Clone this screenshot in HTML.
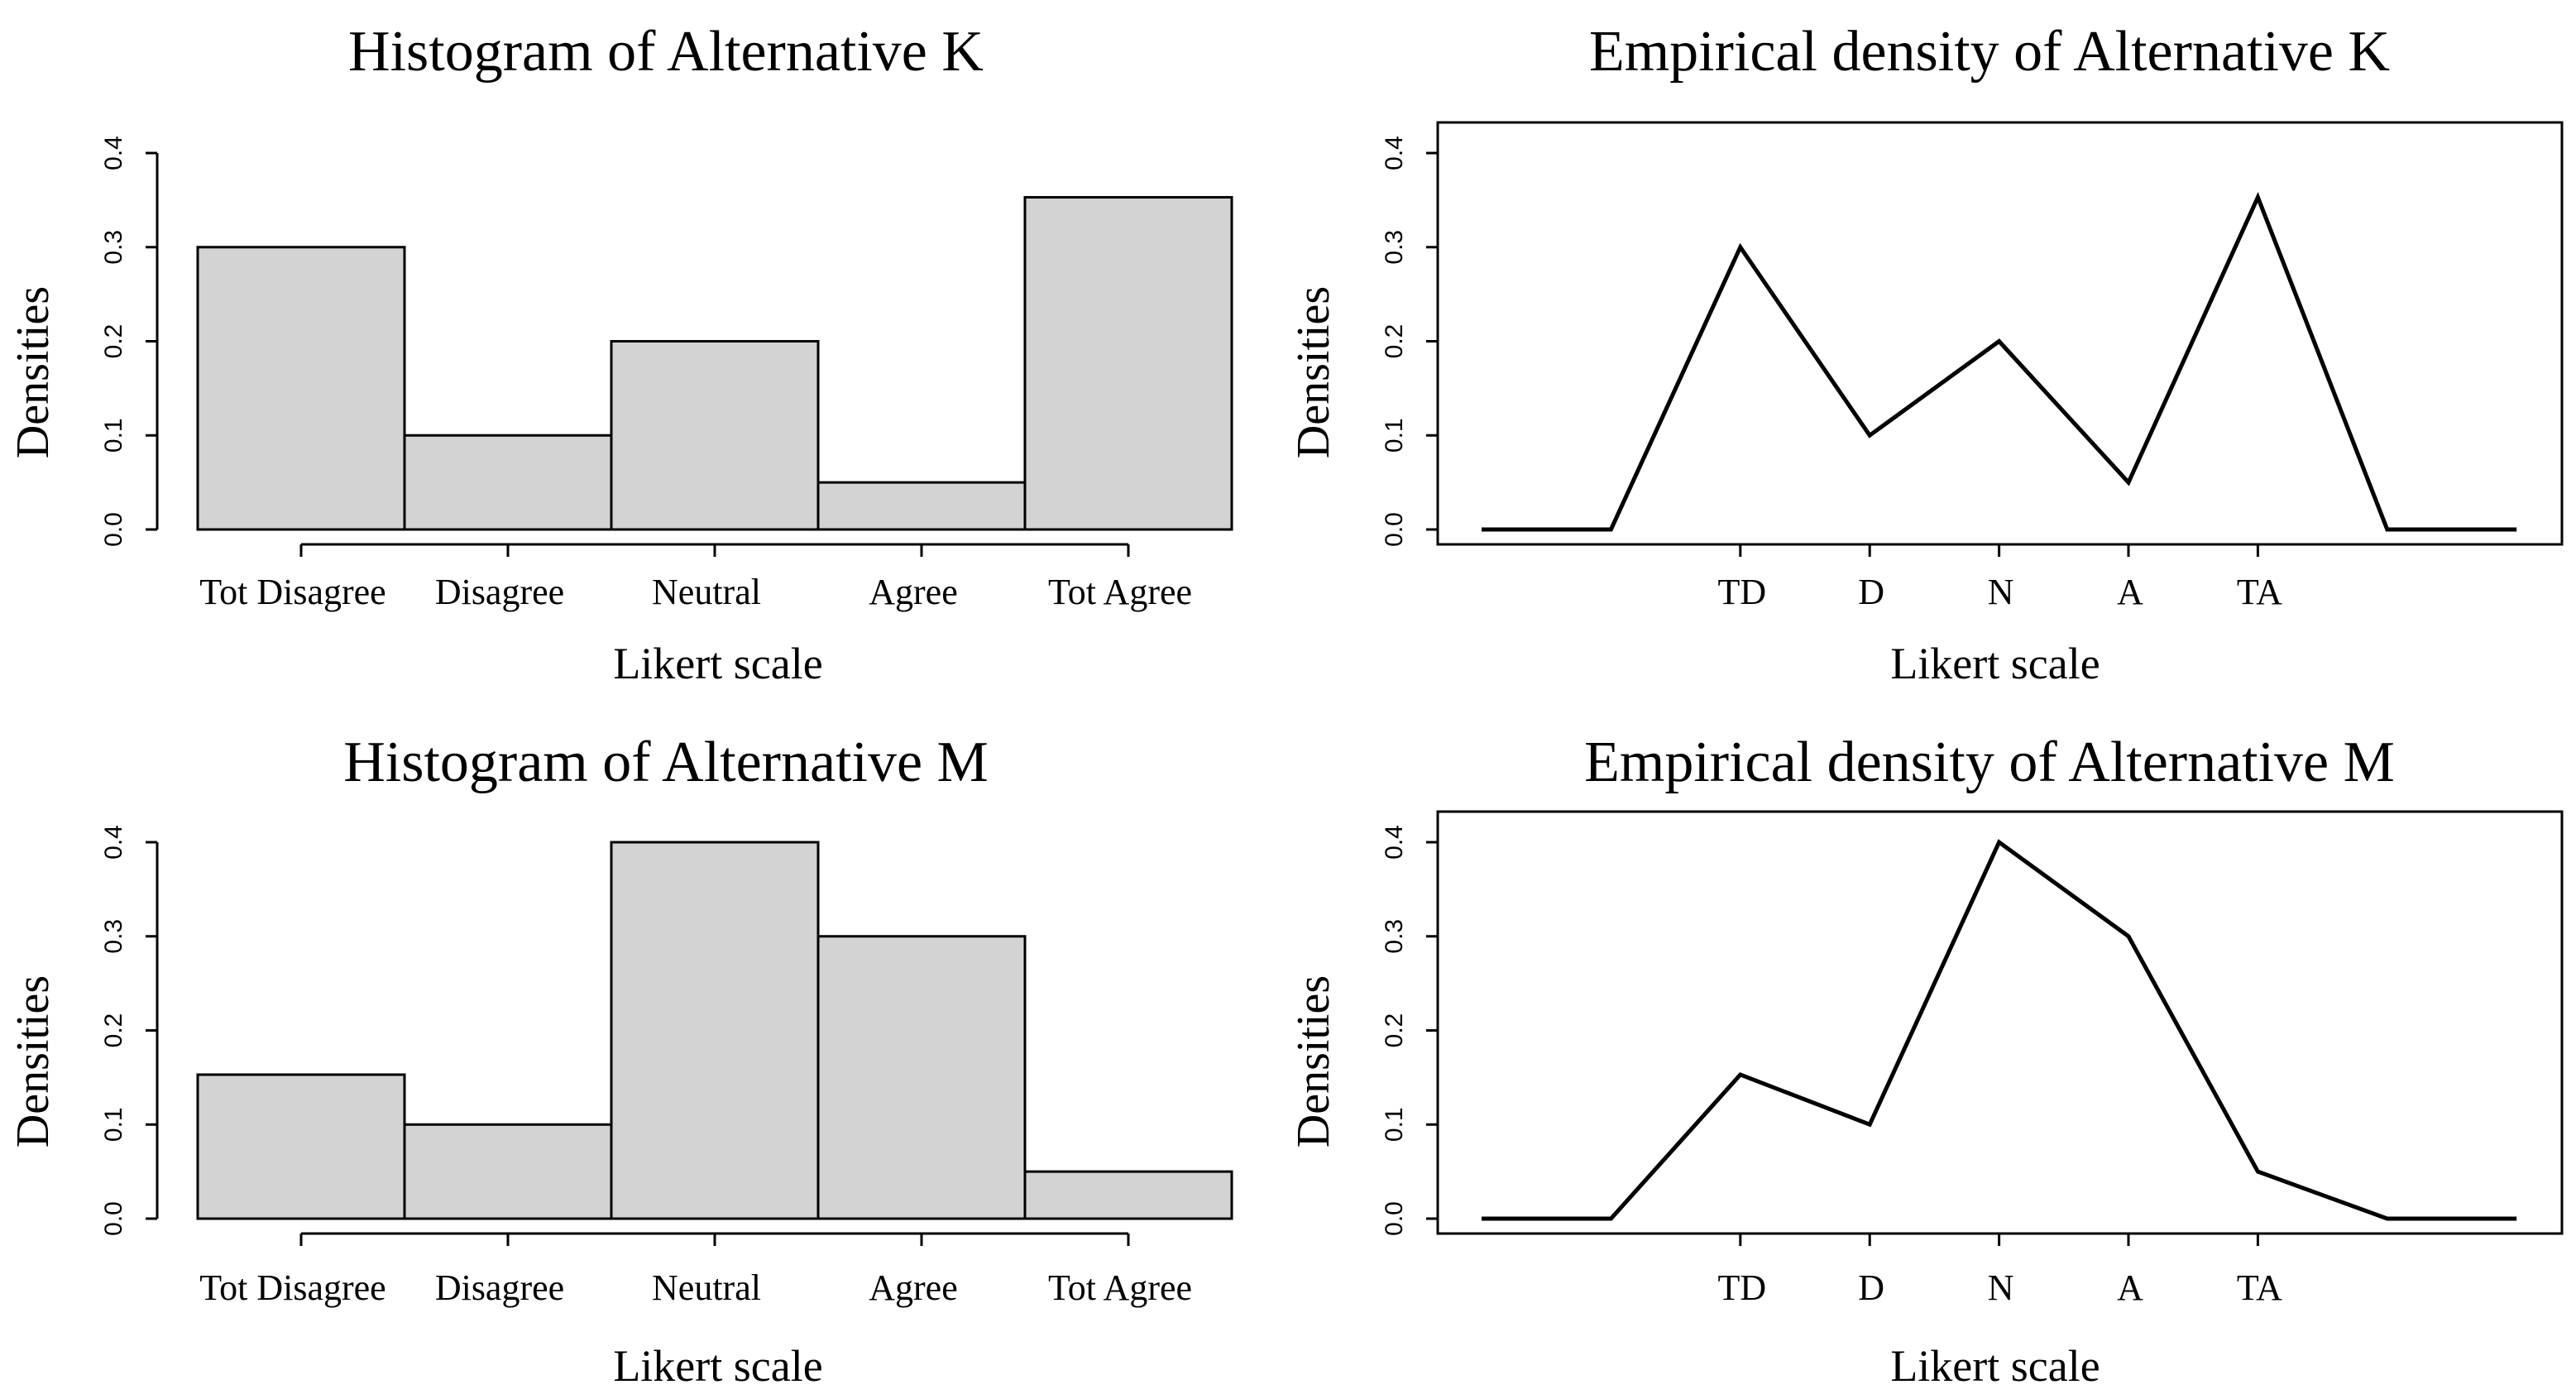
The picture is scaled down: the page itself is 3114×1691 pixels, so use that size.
<!DOCTYPE html>
<html><head><meta charset="utf-8"><style>
html,body{margin:0;padding:0;background:#fff;}
svg{display:block;}
text{font-family:"Liberation Serif",serif;fill:#000;}
.tk{font-family:"Liberation Sans",sans-serif;font-size:30px;}
</style></head><body>
<svg id="c" width="3114" height="1691" viewBox="0 0 3114 1691" xmlns="http://www.w3.org/2000/svg"></svg>
<script>
const categories = ["Tot Disagree","Disagree","Neutral","Agree","Tot Agree"];
const shortCats = ["TD","D","N","A","TA"];
const valuesK = [0.30,0.10,0.20,0.05,0.353];
const valuesM = [0.153,0.10,0.40,0.30,0.05];
const yTicks = ["0.0","0.1","0.2","0.3","0.4"];
const NS="http://www.w3.org/2000/svg";
const svg=document.getElementById('c');
function mk(tag,attrs,parent,txt){const e=document.createElementNS(NS,tag);for(const k in attrs)e.setAttribute(k,attrs[k]);if(txt!==undefined)e.textContent=txt;(parent||svg).appendChild(e);return e;}

function yScale(y0,v){return y0-(v/0.4)*455;}

function common(g,dy,tdy,title,tx,yAxisX){
  const t=mk('text',{x:tx,y:87+dy+tdy,'font-size':70,'text-anchor':'middle'},g,title);
  
  
  const yl=mk('text',{x:0,y:0,'font-size':56,'text-anchor':'middle',transform:`translate(${yAxisX-132},${450+dy}) rotate(-90)`},g,'Densities');
  
  
}

function histogram(dy,tdy,ldy,vals,title,nm){
  const g=mk('g',{});
  
  
  const y0=640+dy*1, ax=190, x0=239, bw=250;
  common(g,dy,tdy,title,805,ax);
  mk('line',{x1:ax,y1:yScale(y0,0),x2:ax,y2:yScale(y0,0.4),stroke:'#000','stroke-width':3},g);
  yTicks.forEach((lab,i)=>{const v=+lab;const y=yScale(y0,v);
    mk('line',{x1:ax-14,y1:y,x2:ax,y2:y,stroke:'#000','stroke-width':3},g);
    const t=mk('text',{class:'tk',x:0,y:0,'text-anchor':'middle',transform:`translate(${ax-43},${y}) rotate(-90)`},g,lab);
    
    
  });
  vals.forEach((v,i)=>{
    const r=mk('rect',{x:x0+i*bw,y:yScale(y0,v),width:bw,height:y0-yScale(y0,v),fill:'#d3d3d3',stroke:'#000','stroke-width':3},g);
    
    
  });
  const ly=y0+18, cx=i=>x0+bw/2+i*bw;
  mk('line',{x1:cx(0),y1:ly,x2:cx(4),y2:ly,stroke:'#000','stroke-width':3},g);
  categories.forEach((c,i)=>{
    mk('line',{x1:cx(i),y1:ly,x2:cx(i),y2:ly+15,stroke:'#000','stroke-width':3},g);
    const t=mk('text',{x:cx(i)-10,y:y0+90+ldy/2,'font-size':44,'text-anchor':'middle'},g,c);
    
    
  });
  const xl=mk('text',{x:868,y:y0+180+ldy,'font-size':54,'text-anchor':'middle'},g,'Likert scale');
  
  
}

function density(dy,tdy,ldy,vals,title,nm){
  const g=mk('g',{});
  
  
  const y0=640+dy, bx=1738, bx2=3097, step=156.4, xc=i=>1791+(i+2)*step;
  common(g,dy,tdy,title,2405,bx);
  const fr=mk('rect',{x:bx,y:y0-492,width:bx2-bx,height:510,fill:'none',stroke:'#000','stroke-width':3},g);
  
  
  yTicks.forEach(lab=>{const y=yScale(y0,+lab);
    mk('line',{x1:bx-14,y1:y,x2:bx,y2:y,stroke:'#000','stroke-width':3},g);
    const t=mk('text',{class:'tk',x:0,y:0,'text-anchor':'middle',transform:`translate(${bx-43},${y}) rotate(-90)`},g,lab);
    
    
  });
  shortCats.forEach((c,i)=>{
    mk('line',{x1:xc(i),y1:y0+18,x2:xc(i),y2:y0+33,stroke:'#000','stroke-width':3},g);
    const t=mk('text',{x:xc(i)+2,y:y0+90+ldy/2,'font-size':44,'text-anchor':'middle'},g,c);
    
    
  });
  const all=[0,0].concat(vals,[0,0]);
  const pts=all.map((v,j)=>`${xc(j-2)},${yScale(y0,v)}`).join(' ');
  const pl=mk('polyline',{points:pts,fill:'none',stroke:'#000','stroke-width':5,'stroke-linejoin':'miter'},g);
  
  
  const xl=mk('text',{x:2412,y:y0+180+ldy,'font-size':54,'text-anchor':'middle'},g,'Likert scale');
  
  
}

histogram(0,-2,0,valuesK,'Histogram of Alternative K','histogram-k');
density(0,-2,0,valuesK,'Empirical density of Alternative K','density-k');
histogram(833,24,16,valuesM,'Histogram of Alternative M','histogram-m');
density(833,24,16,valuesM,'Empirical density of Alternative M','density-m');
</script>
</body></html>
